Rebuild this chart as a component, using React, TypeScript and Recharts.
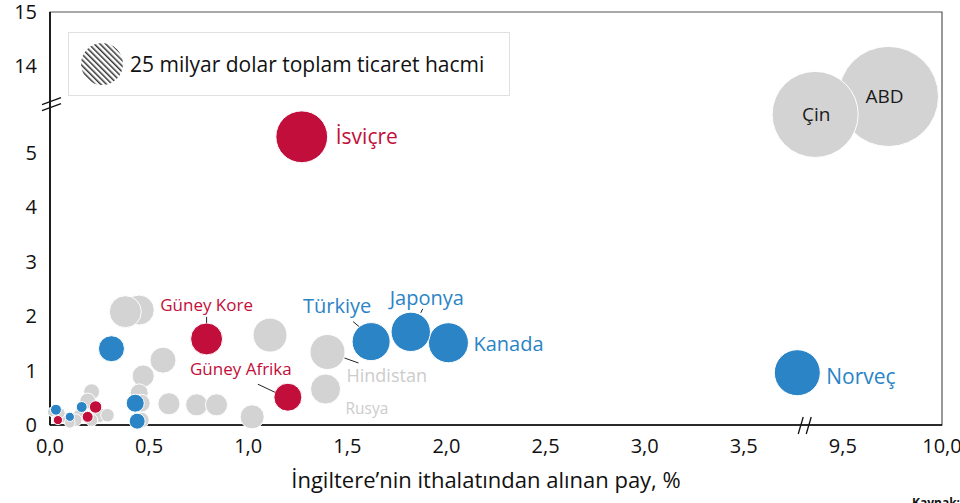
import React from 'react';
import { ScatterChart, Scatter, XAxis, YAxis, ZAxis, ReferenceArea, ReferenceDot } from 'recharts';

// share = UK import share (%), value = y value, trade = total trade volume (bn $)
const greyCountries = [
  { name: 'ABD', share: 9.73, value: 13.45, trade: 142 },
  { name: 'Çin', share: 9.36, value: 13.12, trade: 105 },
  { name: '', share: 0.45, value: 2.11, trade: 12.8 },
  { name: '', share: 0.38, value: 2.08, trade: 14.5 },
  { name: '', share: 1.11, value: 1.65, trade: 16.4 },
  { name: 'Hindistan', share: 1.4, value: 1.34, trade: 17.4 },
  { name: 'Rusya', share: 1.39, value: 0.66, trade: 12.8 },
  { name: '', share: 0.57, value: 1.19, trade: 9.6 },
  { name: '', share: 0.47, value: 0.9, trade: 6.9 },
  { name: '', share: 0.45, value: 0.59, trade: 4.6 },
  { name: '', share: 0.46, value: 0.4, trade: 4.6 },
  { name: '', share: 0.46, value: 0.09, trade: 3.6 },
  { name: '', share: 0.6, value: 0.39, trade: 6.9 },
  { name: '', share: 0.74, value: 0.37, trade: 6.9 },
  { name: '', share: 0.84, value: 0.37, trade: 6.9 },
  { name: '', share: 1.02, value: 0.15, trade: 8.2 },
  { name: '', share: 0.21, value: 0.61, trade: 3.6 },
  { name: '', share: 0.19, value: 0.44, trade: 3.6 },
  { name: '', share: 0.25, value: 0.18, trade: 3.0 },
  { name: '', share: 0.29, value: 0.18, trade: 2.6 },
  { name: '', share: 0.15, value: 0.18, trade: 2.3 },
  { name: '', share: 0.13, value: 0.09, trade: 2.2 },
  { name: '', share: 0.08, value: 0.13, trade: 1.7 },
  { name: '', share: 0.05, value: 0.22, trade: 1.6 },
  { name: '', share: 0.01, value: 0.24, trade: 1.2 },
  { name: '', share: 0.1, value: 0.04, trade: 1.6 },
  { name: '', share: 0.21, value: 0.09, trade: 2.2 },
];

const blueCountries = [
  { name: 'Kanada', share: 2.01, value: 1.51, trade: 22.7 },
  { name: 'Türkiye', share: 1.62, value: 1.53, trade: 20.5 },
  { name: 'Japonya', share: 1.82, value: 1.71, trade: 22 },
  { name: 'Norveç', share: 3.77, value: 0.96, trade: 30 },
  { name: '', share: 0.31, value: 1.4, trade: 9.6 },
  { name: '', share: 0.43, value: 0.4, trade: 4.6 },
  { name: '', share: 0.44, value: 0.07, trade: 3.6 },
  { name: '', share: 0.16, value: 0.33, trade: 1.7 },
  { name: '', share: 0.03, value: 0.28, trade: 1.7 },
  { name: '', share: 0.1, value: 0.15, trade: 1.2 },
];

const redCountries = [
  { name: 'İsviçre', share: 1.27, value: 5.29, trade: 38 },
  { name: 'Güney Kore', share: 0.79, value: 1.58, trade: 14.5 },
  { name: 'Güney Afrika', share: 1.2, value: 0.51, trade: 11.1 },
  { name: '', share: 0.23, value: 0.33, trade: 2.2 },
  { name: '', share: 0.19, value: 0.15, trade: 1.7 },
  { name: '', share: 0.04, value: 0.09, trade: 1.2 },
];

const xTickValues = [0, 0.5, 1, 1.5, 2, 2.5, 3, 3.5, 9.5, 10];
const yTickValues = [0, 1, 2, 3, 4, 5, 14, 15];
const legendTrade = 25;
const legendText = '25 milyar dolar toplam ticaret hacmi';
const xTitle = 'İngiltere’nin ithalatından alınan pay, %';

const FONT = '"Open Sans", sans-serif';
const RED = '#c20e3a';
const BLUE = '#2a84c6';
const GREY = '#d3d3d3';
const LABEL_GREY = '#cccccc';

// broken axes: 9.5 sits right after 3.5, 14 right after ~5.6
const X_GAP = 5.5;
const Y_GAP = 7.42;
const xToAxis = (v: number) => (v > 5 ? v - X_GAP : v);
const yToAxis = (v: number) => (v > 6 ? v - Y_GAP : v);
const X_MAX = xToAxis(10);
const Y_MAX = yToAxis(15);

const LEGEND_R = 21;
const AREA_PER_BN = (Math.PI * LEGEND_R * LEGEND_R) / legendTrade;

const toPoints = (arr: typeof greyCountries) =>
  arr.map((d) => ({ ...d, px: xToAxis(d.share), py: yToAxis(d.value) }));

const greyPts = toPoints(greyCountries);
const bluePts = toPoints(blueCountries);
const redPts = toPoints(redCountries);
const labelPts = [...greyPts, ...bluePts, ...redPts].filter((d) => d.name);

const fmt = (v: number) => v.toFixed(1).replace('.', ',');

type LabelCfg = { dx: number; dy: number; anchor: string; color: string; size: number; line?: number[] };
const LABELS: Record<string, LabelCfg> = {
  'İsviçre': { dx: 34, dy: -1, anchor: 'start', color: RED, size: 21 },
  'Güney Kore': { dx: 0, dy: -34, anchor: 'middle', color: RED, size: 17, line: [0, -16, 0, -22] },
  'Güney Afrika': { dx: -47, dy: -29, anchor: 'middle', color: RED, size: 17, line: [-30, -13, -13, -5] },
  'Türkiye': { dx: -34, dy: -36, anchor: 'middle', color: BLUE, size: 20, line: [-18, -20, -12, -15] },
  'Japonya': { dx: 16, dy: -34, anchor: 'middle', color: BLUE, size: 20, line: [10, -19, 12, -23] },
  'Kanada': { dx: 25, dy: 1, anchor: 'start', color: BLUE, size: 20 },
  'Norveç': { dx: 29, dy: 3, anchor: 'start', color: BLUE, size: 21 },
  'Hindistan': { dx: 19, dy: 23, anchor: 'start', color: LABEL_GREY, size: 18, line: [17, 6, 31, 11] },
  'Rusya': { dx: 20, dy: 19, anchor: 'start', color: LABEL_GREY, size: 15.5 },
  'Çin': { dx: 1, dy: 0, anchor: 'middle', color: '#1a1a1a', size: 19 },
  'ABD': { dx: -4, dy: 0, anchor: 'middle', color: '#1a1a1a', size: 19 },
};

const bubble = (color: string) => (p: any) => (
  <circle cx={p.cx} cy={p.cy} r={Math.max(p.width / 2, 0)} fill={color} stroke="#fff" strokeWidth={1} />
);

const LabelShape = (p: any) => {
  const cfg = LABELS[p.payload?.name];
  if (!cfg) return <g />;
  return (
    <g>
      {cfg.line && (
        <line
          x1={p.cx + cfg.line[0]} y1={p.cy + cfg.line[1]}
          x2={p.cx + cfg.line[2]} y2={p.cy + cfg.line[3]}
          stroke="#222" strokeWidth={1}
        />
      )}
      <text
        x={p.cx + cfg.dx} y={p.cy + cfg.dy}
        textAnchor={cfg.anchor as any} dominantBaseline="central"
        fill={cfg.color} fontSize={cfg.size} fontFamily={FONT}
      >
        {p.payload.name}
      </text>
    </g>
  );
};

const XTick = (p: any) => {
  const idx = xTickValues.findIndex((v) => Math.abs(xToAxis(v) - p.payload.value) < 1e-6);
  return (
    <text x={p.x} y={p.y + 28} textAnchor="middle" fontSize={20} fontFamily={FONT} fill="#111">
      {idx >= 0 ? fmt(xTickValues[idx]) : ''}
    </text>
  );
};

const YTick = (p: any) => {
  const idx = yTickValues.findIndex((v) => Math.abs(yToAxis(v) - p.payload.value) < 1e-6);
  return (
    <text x={p.x - 13} y={p.y + 7} textAnchor="end" fontSize={20} fontFamily={FONT} fill="#111">
      {idx >= 0 ? yTickValues[idx] : ''}
    </text>
  );
};

const XBreak = (p: any) => (
  <g stroke="#111" strokeWidth={1.3}>
    <line x1={p.cx - 7} y1={p.cy + 9} x2={p.cx - 2} y2={p.cy - 8} />
    <line x1={p.cx + 1} y1={p.cy + 9} x2={p.cx + 6} y2={p.cy - 8} />
  </g>
);

const YBreak = (p: any) => (
  <g stroke="#111" strokeWidth={1.3}>
    <line x1={p.cx - 8} y1={p.cy + 1} x2={p.cx + 11} y2={p.cy - 6} />
    <line x1={p.cx - 8} y1={p.cy + 7} x2={p.cx + 11} y2={p.cy} />
  </g>
);

export default function App() {
  return (
    <div style={{ position: 'absolute', left: 0, top: 0, width: 960, height: 503, fontFamily: FONT }}>
      <ScatterChart width={960} height={503} margin={{ top: 12, right: 18, bottom: 0, left: 0 }}>
        <XAxis
          type="number" dataKey="px" domain={[0, X_MAX]} ticks={xTickValues.map(xToAxis)}
          height={78} tickSize={0} tickMargin={0} tick={XTick} tickLine={false}
          axisLine={{ stroke: '#000', strokeWidth: 1.6 }} interval={0}
          label={{
            content: (lp: any) => (
              <text x={lp.viewBox.x + lp.viewBox.width / 2 - 10} y={lp.viewBox.y + 63} textAnchor="middle"
                fontSize={22} fontFamily={FONT} fill="#111">{xTitle}</text>
            ),
          }}
        />
        <YAxis
          type="number" dataKey="py" domain={[0, Y_MAX]} ticks={yTickValues.map(yToAxis)}
          width={50} tickSize={0} tickMargin={0} tick={YTick} tickLine={false}
          axisLine={{ stroke: '#000', strokeWidth: 1.6 }} interval={0}
        />
        <ZAxis type="number" dataKey="trade" domain={[0, 200]} range={[0, 200 * AREA_PER_BN]} />
        <ReferenceArea x1={0} x2={X_MAX} y1={0} y2={Y_MAX} fill="none" stroke="#555" strokeWidth={1.2} />
        <Scatter data={greyPts} shape={bubble(GREY)} isAnimationActive={false} />
        <Scatter data={bluePts} shape={bubble(BLUE)} isAnimationActive={false} />
        <Scatter data={redPts} shape={bubble(RED)} isAnimationActive={false} />
        <Scatter data={labelPts} shape={LabelShape} isAnimationActive={false} />
        <ReferenceDot x={3.81} y={0} r={0} shape={XBreak} />
        <ReferenceDot x={0} y={5.9} r={0} shape={YBreak} />
      </ScatterChart>
      <div
        style={{
          position: 'absolute', left: 68, top: 32, width: 442, height: 64, boxSizing: 'border-box',
          border: '1px solid #e0e0e0', background: '#fff', display: 'flex', alignItems: 'center',
        }}
      >
        <svg width={44} height={44} style={{ marginLeft: 11 }}>
          <defs>
            <pattern id="hatch" width={4} height={4} patternUnits="userSpaceOnUse" patternTransform="rotate(-45)">
              <rect x={0} y={0} width={1.5} height={4} fill="#333" />
            </pattern>
          </defs>
          <circle cx={22} cy={22} r={LEGEND_R} fill="url(#hatch)" />
        </svg>
        <span style={{ fontSize: 21, color: '#111', marginLeft: 6, whiteSpace: 'nowrap' }}>{legendText}</span>
      </div>
      <div style={{ position: 'absolute', left: 912, top: 494, fontSize: 12, fontWeight: 700, color: '#111' }}>
        Kaynak:
      </div>
    </div>
  );
}
